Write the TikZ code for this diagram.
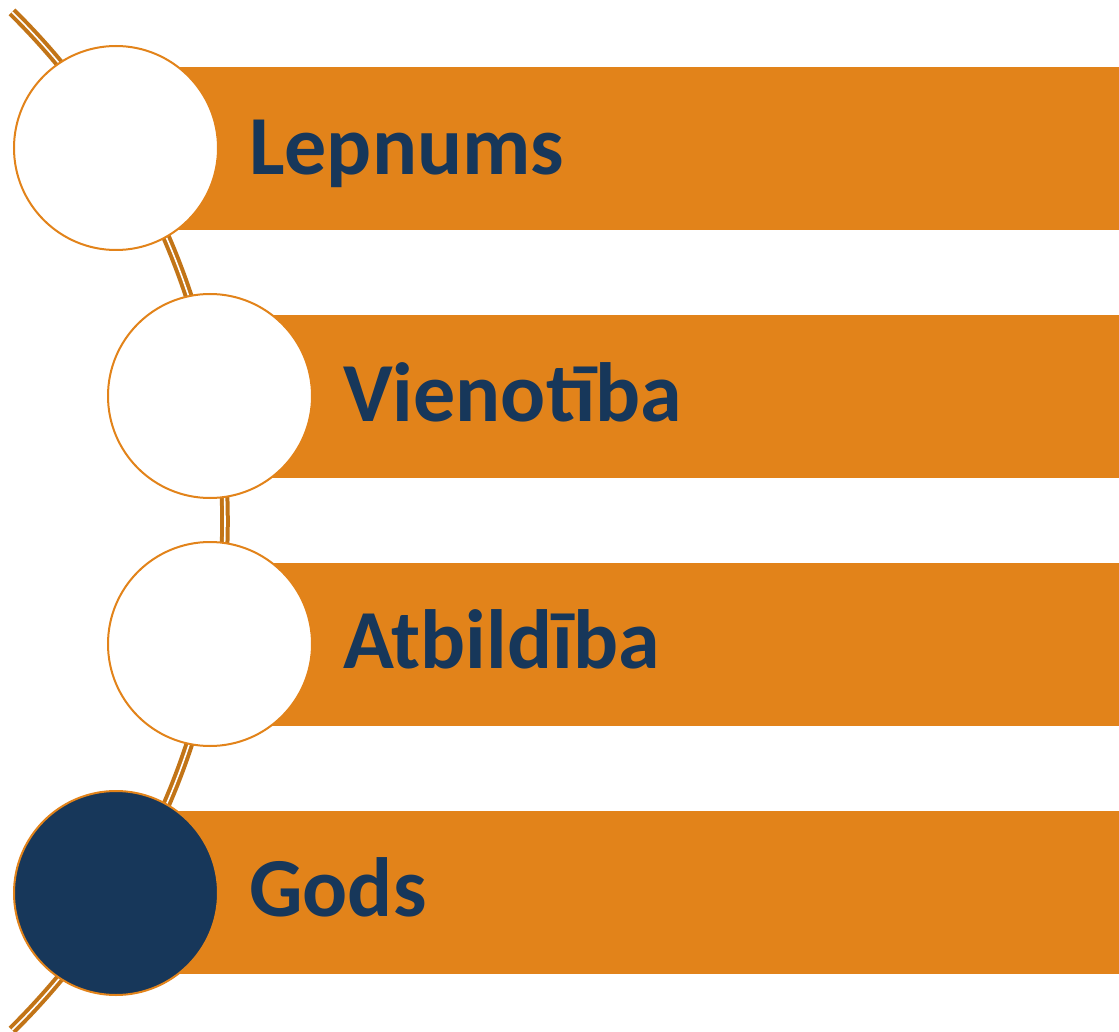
\documentclass[tikz,border=0pt]{standalone}
\usepackage{fontspec}
\setmainfont{Carlito}
\definecolor{barorange}{HTML}{E2831A}
\definecolor{arcorange}{HTML}{C27417}
\definecolor{navy}{HTML}{17375A}
\begin{document}
\begin{tikzpicture}[x=1pt,y=-1pt,
  bar/.style={fill=barorange,draw=none,rectangle,inner sep=0pt,minimum height=163pt,anchor=west},
  ring/.style={circle,draw=barorange,line width=2pt,fill=white,minimum size=204pt,inner sep=0pt},
  label/.style={anchor=base west,text=navy,font=\fontsize{84}{88}\selectfont\bfseries,inner sep=0pt}]
\useasboundingbox[fill=white] (0,0) rectangle (1119,1032);
% double arc
\draw[arcorange,line width=4pt,double=white,double distance=1.6pt]
  (-490,521) ++(-45.4:715) arc[start angle=-45.4,end angle=45.4,radius=715];
% bars
\node[bar,minimum width=959pt] (b1) at (160,148.5) {};
\node[bar,minimum width=864pt] (b2) at (255,396.5) {};
\node[bar,minimum width=864pt] (b3) at (255,644.5) {};
\node[bar,minimum width=959pt] (b4) at (160,892.5) {};
% circles
\node[ring] (c1) at (116,148) {};
\node[ring] (c2) at (210,396) {};
\node[ring] (c3) at (210,644) {};
\node[ring,fill=navy] (c4) at (116,893) {};
% labels
\node[label] (t1) at (249,175) {Lepnums};
\node[label] (t2) at (343,421) {Vienotība};
\node[label] (t3) at (343,668) {Atbildība};
\node[label] (t4) at (249,916) {Gods};
\end{tikzpicture}
\end{document}
